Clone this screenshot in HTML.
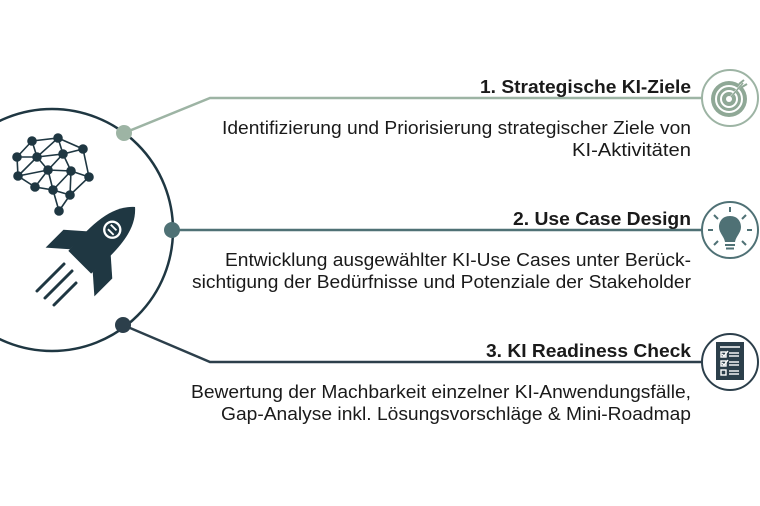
<!DOCTYPE html>
<html><head><meta charset="utf-8"><style>
html,body{margin:0;padding:0;background:#fff}
svg{display:block}
text{font-family:"Liberation Sans",Arial,sans-serif;fill:#1a1a1a}
</style></head><body>
<svg width="760" height="506" viewBox="0 0 760 506" xmlns="http://www.w3.org/2000/svg">
<circle cx="52" cy="230" r="121" fill="none" stroke="#1f3742" stroke-width="2.5"/>
<polyline points="124,133 210,98 702,98" fill="none" stroke="#9db4a4" stroke-width="2.5"/>
<line x1="172" y1="230" x2="702" y2="230" stroke="#4f7175" stroke-width="2.5"/>
<polyline points="123,325 210,362 702,362" fill="none" stroke="#2c3f4b" stroke-width="2.5"/>
<circle cx="124" cy="133" r="8" fill="#9db4a4"/>
<circle cx="172" cy="230" r="8" fill="#4f7175"/>
<circle cx="123" cy="325" r="8" fill="#2c3f4b"/>
<g stroke="#1f3742" stroke-width="1.6" fill="#1f3742">
<path d="M32,141 L58,138 L83,149 L89,177 L70,195 L59,211 L53,190 L35,187 L18,176 L17,157 L32,141 M32,141 L37,157 L58,138 L63,154 L83,149 M17,157 L37,157 L63,154 L71,171 L89,177 M18,176 L37,157 L48,170 L63,154 M18,176 L48,170 L71,171 L70,195 M35,187 L48,170 L53,190 L71,171 M53,190 L70,195 M59,211 L70,195" fill="none"/>
<circle cx="32" cy="141" r="4"/><circle cx="58" cy="138" r="4"/><circle cx="83" cy="149" r="4"/>
<circle cx="17" cy="157" r="4"/><circle cx="37" cy="157" r="4"/><circle cx="63" cy="154" r="4"/>
<circle cx="18" cy="176" r="4"/><circle cx="48" cy="170" r="4"/><circle cx="71" cy="171" r="4"/>
<circle cx="89" cy="177" r="4"/><circle cx="35" cy="187" r="4"/><circle cx="53" cy="190" r="4"/>
<circle cx="70" cy="195" r="4"/><circle cx="59" cy="211" r="4"/>
</g>
<g transform="translate(96,246) rotate(45) scale(1.15)" fill="#1f3742">
<path d="M0,-48 C16,-34 16,-10 14,20 L-14,20 C-16,-10 -16,-34 0,-48 Z"/>
<path d="M-14,-4 L-30,10 L-30,32 L-14,18 Z"/>
<path d="M14,-4 L30,10 L30,32 L14,18 Z"/>
<circle cx="0" cy="-20" r="8" fill="#fff"/>
<circle cx="0" cy="-20" r="6"/>
<rect x="-4" y="-23" width="7" height="1.6" fill="#fff"/>
<rect x="-3" y="-18.5" width="7" height="1.6" fill="#fff"/>
</g>
<g stroke="#1f3742" stroke-width="3" stroke-linecap="round">
<line x1="37" y1="291" x2="64" y2="264"/>
<line x1="45" y1="298" x2="72" y2="271"/>
<line x1="54" y1="305" x2="76" y2="283"/>
</g>
<g font-size="18">
<text x="691" y="93" font-weight="bold" text-anchor="end" textLength="211" lengthAdjust="spacingAndGlyphs">1. Strategische KI-Ziele</text>
<text x="691" y="134" text-anchor="end" textLength="469" lengthAdjust="spacingAndGlyphs">Identifizierung und Priorisierung strategischer Ziele von</text>
<text x="691" y="156" text-anchor="end" textLength="119" lengthAdjust="spacingAndGlyphs">KI-Aktivitäten</text>
<text x="691" y="225" font-weight="bold" text-anchor="end" textLength="178" lengthAdjust="spacingAndGlyphs">2. Use Case Design</text>
<text x="691" y="266" text-anchor="end" textLength="466" lengthAdjust="spacingAndGlyphs">Entwicklung ausgewählter KI-Use Cases unter Berück-</text>
<text x="691" y="288" text-anchor="end" textLength="499" lengthAdjust="spacingAndGlyphs">sichtigung der Bedürfnisse und Potenziale der Stakeholder</text>
<text x="691" y="357" font-weight="bold" text-anchor="end" textLength="205" lengthAdjust="spacingAndGlyphs">3. KI Readiness Check</text>
<text x="691" y="398" text-anchor="end" textLength="500" lengthAdjust="spacingAndGlyphs">Bewertung der Machbarkeit einzelner KI-Anwendungsfälle,</text>
<text x="691" y="420" text-anchor="end" textLength="470" lengthAdjust="spacingAndGlyphs">Gap-Analyse inkl. Lösungsvorschläge &amp; Mini-Roadmap</text>
</g>
<circle cx="730" cy="98" r="28" fill="#fff" stroke="#9db4a4" stroke-width="2"/>
<circle cx="729" cy="99" r="18" fill="#8fa896"/>
<circle cx="729" cy="99" r="13" fill="none" stroke="#fff" stroke-width="2"/>
<circle cx="729" cy="99" r="8" fill="none" stroke="#fff" stroke-width="2"/>
<circle cx="729" cy="99" r="3" fill="#fff"/>
<line x1="729" y1="99" x2="742" y2="84" stroke="#fff" stroke-width="2"/>
<line x1="731" y1="97" x2="743" y2="83" stroke="#8fa896" stroke-width="1.5"/>
<path d="M739,84 L744,80 M742,87 L747,84" stroke="#8fa896" stroke-width="2"/>
<circle cx="730" cy="230" r="28" fill="#fff" stroke="#4f7175" stroke-width="2"/>
<g stroke="#4f7175" stroke-width="2">
<line x1="730" y1="207" x2="730" y2="212"/>
<line x1="714" y1="215" x2="718" y2="219"/><line x1="746" y1="215" x2="742" y2="219"/>
<line x1="708" y1="230" x2="713" y2="230"/><line x1="747" y1="230" x2="752" y2="230"/>
<line x1="714" y1="245" x2="718" y2="241"/><line x1="746" y1="245" x2="742" y2="241"/>
</g>
<path d="M730,216 C738,216 741,222 741,227 C741,233 736,236 735,242 L725,242 C724,236 719,233 719,227 C719,222 722,216 730,216 Z" fill="#4f7175"/>
<rect x="725" y="244" width="10" height="2" fill="#4f7175"/>
<rect x="726" y="247.5" width="8" height="2" fill="#4f7175"/>
<circle cx="730" cy="362" r="28" fill="#fff" stroke="#2c3f4b" stroke-width="2"/>
<rect x="716" y="342" width="28" height="38" fill="#2c3f4b"/>
<g stroke="#fff" stroke-width="1.4" fill="none">
<line x1="720" y1="347" x2="740" y2="347"/>
<rect x="721" y="352" width="5" height="5"/><path d="M722,354 L724,356 L728,351"/>
<line x1="729" y1="353" x2="739" y2="353"/><line x1="729" y1="356" x2="739" y2="356"/>
<rect x="721" y="361" width="5" height="5"/><path d="M722,363 L724,365 L728,360"/>
<line x1="729" y1="362" x2="739" y2="362"/><line x1="729" y1="365" x2="739" y2="365"/>
<rect x="721" y="370" width="5" height="5"/>
<line x1="729" y1="371" x2="739" y2="371"/><line x1="729" y1="374" x2="739" y2="374"/>
</g>
</svg>
</body></html>
